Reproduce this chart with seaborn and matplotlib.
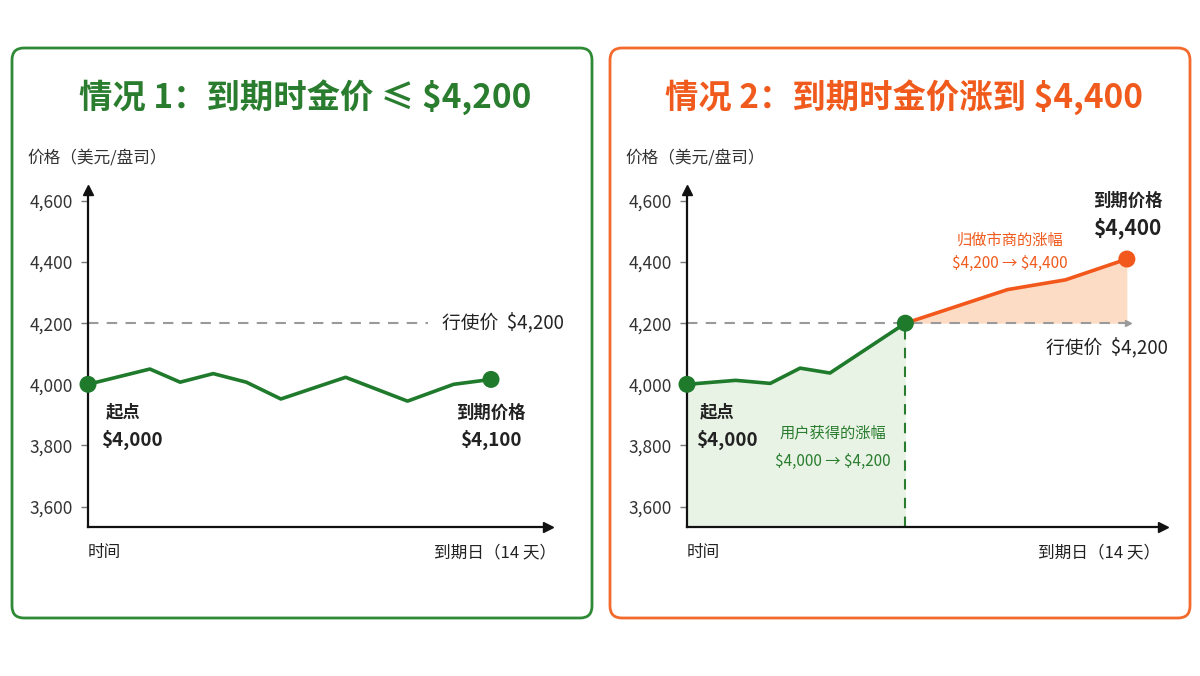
import matplotlib
matplotlib.use("Agg")
import matplotlib.pyplot as plt
from matplotlib.patches import FancyBboxPatch
from matplotlib.ticker import FuncFormatter
import seaborn as sns
import pandas as pd

# ---- 数据 ----
strike = 4200
y_ticks = [3600, 3800, 4000, 4200, 4400, 4600]

# 情况1：到期价格低于行使价
left_days = [0, 2.15, 3.2, 4.35, 5.5, 6.7, 8.95, 11.1, 12.7, 14]
left_price = [4000, 4050, 4007, 4035, 4007, 3952, 4023, 3945, 4000, 4016]

# 情况2：先涨到行使价（用户部分），再涨到4400（做市商部分）
user_days = [0, 1.55, 2.65, 3.6, 4.55, 6.95]
user_price = [4000, 4013, 4003, 4053, 4037, 4200]
mm_days = [6.95, 10.2, 12.05, 14]
mm_price = [4200, 4310, 4342, 4410]

GREEN = "#1f7a2c"
GREEN_T = "#2a7d2e"
ORANGE = "#f2571b"
ORANGE_T = "#f05a1c"
GRAY = "#9a9a9a"
TXT = "#222222"

sns.set_theme(style="white")
plt.rcParams['font.family'] = ['Noto Sans CJK SC', 'DejaVu Sans']

fig = plt.figure(figsize=(12, 6.76), dpi=100)
fig.patch.set_facecolor("white")

# 圆角边框
for x0, col in [(0.12, "#2f8a36"), (6.10, "#f36a2c")]:
    box = FancyBboxPatch((x0, 0.58), 5.80, 5.70,
                         boxstyle="round,pad=0,rounding_size=0.12",
                         transform=fig.dpi_scale_trans, fill=False,
                         edgecolor=col, linewidth=2)
    fig.add_artist(box)

ymin, ymax = 3533, 4636
ax1 = fig.add_axes([88 / 1200, 1 - 527 / 676, 460 / 1200, 337 / 676])
ax2 = fig.add_axes([687 / 1200, 1 - 527 / 676, 476 / 1200, 337 / 676])
ax1.set_xlim(0, 15.98)
ax2.set_xlim(0, 15.15)

for ax in (ax1, ax2):
    ax.set_ylim(ymin, ymax)
    ax.set_facecolor("none")
    for s in ("top", "right"):
        ax.spines[s].set_visible(False)
    for s in ("left", "bottom"):
        ax.spines[s].set_color("#111111")
        ax.spines[s].set_linewidth(1.6)
    ax.set_xticks([])
    ax.set_yticks(y_ticks)
    ax.yaxis.set_major_formatter(FuncFormatter(lambda v, p: f"{int(v):,}"))
    ax.tick_params(axis="y", length=5, width=1, color="#777777", pad=6,
                   labelsize=12.5, labelcolor="#333333", left=True)
    ax.plot(1, 0, ">", color="#111111", ms=7, transform=ax.transAxes, clip_on=False)
    ax.plot(0, 1, "^", color="#111111", ms=7, transform=ax.transAxes, clip_on=False)

# ---- 情况1 ----
ax1.plot([0, 11.8], [strike, strike], color=GRAY, lw=1.5, dashes=(5, 4))
ax1.text(12.3, strike, "行使价  \\$4,200", fontsize=13.5, color=TXT, va="center", ha="left")
df1 = pd.DataFrame({"day": left_days, "price": left_price})
sns.lineplot(data=df1, x="day", y="price", ax=ax1, color=GREEN, lw=2.6, sort=False, clip_on=False)
sns.scatterplot(x=[left_days[0], left_days[-1]], y=[left_price[0], left_price[-1]], ax=ax1,
                color=GREEN, s=150, edgecolor="none", zorder=5, clip_on=False)
ax1.text(0.6, 3909, "起点", fontsize=12.5, fontweight="bold", color=TXT, ha="left", va="center")
ax1.text(0.45, 3818, "\\$4,000", fontsize=13.5, fontweight="bold", color=TXT, ha="left", va="center")
ax1.text(14.0, 3906, "到期价格", fontsize=12.5, fontweight="bold", color=TXT, ha="center", va="center")
ax1.text(14.0, 3818, "\\$4,100", fontsize=13.5, fontweight="bold", color=TXT, ha="center", va="center")

# ---- 情况2 ----
ax2.fill_between(user_days, user_price, ymin, color="#e8f3e6", zorder=0, lw=0)
ax2.fill_between(mm_days, mm_price, strike, color="#fddcc5", zorder=0, lw=0)
ax2.plot([0, 14.03], [strike, strike], color=GRAY, lw=1.5, dashes=(5, 4), zorder=1)
ax2.plot(14.03, strike, ">", color=GRAY, ms=4, zorder=1)
ax2.plot([user_days[-1], user_days[-1]], [ymin, strike], color=GREEN_T, lw=1.5, dashes=(5, 4), zorder=1)
df2a = pd.DataFrame({"day": user_days, "price": user_price})
df2b = pd.DataFrame({"day": mm_days, "price": mm_price})
sns.lineplot(data=df2a, x="day", y="price", ax=ax2, color=GREEN, lw=2.6, sort=False, clip_on=False)
sns.lineplot(data=df2b, x="day", y="price", ax=ax2, color=ORANGE, lw=2.6, sort=False, clip_on=False)
sns.scatterplot(x=[user_days[0], user_days[-1]], y=[user_price[0], user_price[-1]], ax=ax2,
                color=GREEN, s=150, edgecolor="none", zorder=5, clip_on=False)
sns.scatterplot(x=[mm_days[-1]], y=[mm_price[-1]], ax=ax2,
                color=ORANGE, s=150, edgecolor="none", zorder=5, clip_on=False)
ax2.text(0.42, 3909, "起点", fontsize=12.5, fontweight="bold", color=TXT, ha="left", va="center")
ax2.text(0.3, 3818, "\\$4,000", fontsize=13.5, fontweight="bold", color=TXT, ha="left", va="center")
ax2.text(4.65, 3841, "用户获得的涨幅", fontsize=11, color=GREEN_T, ha="center", va="center")
ax2.text(4.65, 3746, "\\$4,000 → \\$4,200", fontsize=11, color=GREEN_T, ha="center", va="center")
ax2.text(10.28, 4472, "归做市商的涨幅", fontsize=11, color=ORANGE_T, ha="center", va="center")
ax2.text(10.28, 4397, "\\$4,200 → \\$4,400", fontsize=11, color=ORANGE_T, ha="center", va="center")
ax2.text(14.03, 4600, "到期价格", fontsize=12.5, fontweight="bold", color=TXT, ha="center", va="center")
ax2.text(14.03, 4511, "\\$4,400", fontsize=15, fontweight="bold", color=TXT, ha="center", va="center")
ax2.text(13.36, 4119, "行使价  \\$4,200", fontsize=13.5, color=TXT, ha="center", va="center")

# 轴标题与时间标签
for ax, xend in [(ax1, 16.26), (ax2, 15.05)]:
    ax.set_xlabel("")
    ax.set_ylabel("")
    ax.text(0, 3448, "时间", fontsize=12, color=TXT, ha="left", va="center")
    ax.text(xend, 3448, "到期日（14 天）", fontsize=12, color=TXT, ha="right", va="center")

fig.text(27 / 1200, 1 - 158 / 676, "价格（美元/盘司）", fontsize=12, color="#333333", ha="left", va="center")
fig.text(625 / 1200, 1 - 158 / 676, "价格（美元/盘司）", fontsize=12, color="#333333", ha="left", va="center")

fig.text(305 / 1200, 1 - 97 / 676, "情况 1：到期时金价 ≤ \\$4,200", fontsize=24, fontweight="bold",
         color=GREEN_T, ha="center", va="center")
fig.text(904 / 1200, 1 - 97 / 676, "情况 2：到期时金价涨到 \\$4,400", fontsize=24, fontweight="bold",
         color=ORANGE_T, ha="center", va="center")

fig.savefig("out.png", dpi=100, facecolor="white")
